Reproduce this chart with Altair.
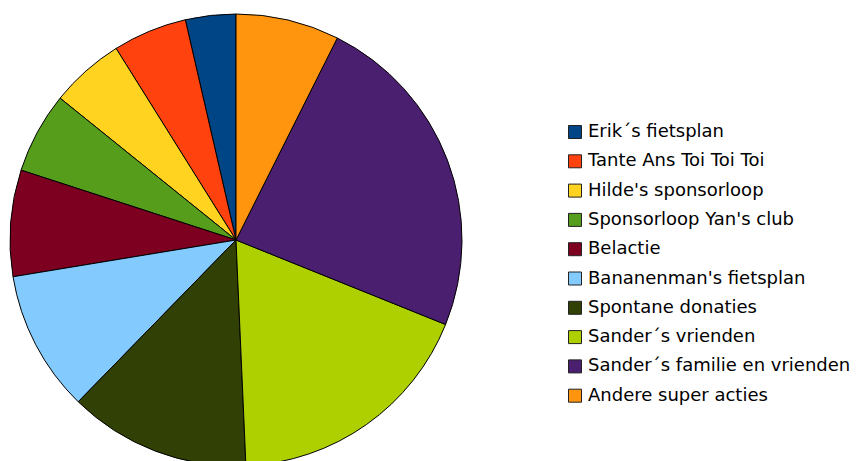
import altair as alt
import pandas as pd

# Legend order
categories = [
    "Erik\u00b4s fietsplan",
    "Tante Ans Toi Toi Toi",
    "Hilde's sponsorloop",
    "Sponsorloop Yan's club",
    "Belactie",
    "Bananenman's fietsplan",
    "Spontane donaties",
    "Sander\u00b4s vrienden",
    "Sander\u00b4s familie en vrienden",
    "Andere super acties",
]
values = [3.6, 5.3, 5.3, 5.8, 7.6, 10.1, 13.0, 18.2, 23.7, 7.4]
colors = ["#004586", "#ff420e", "#ffd320", "#579d1c", "#7e0021",
          "#83caff", "#314004", "#aecf00", "#4b1f6f", "#ff950e"]
# clockwise drawing order starting at 12 o'clock
draw_order = [9, 8, 7, 6, 5, 4, 3, 2, 1, 0]

df = pd.DataFrame({
    "categorie": categories,
    "waarde": values,
    "volgorde": draw_order,
})

chart = alt.Chart(df).mark_arc(stroke="black", strokeWidth=1, radius=226).encode(
    x=alt.value(224),
    y=alt.value(232),
    theta=alt.Theta("waarde:Q", stack=True),
    order=alt.Order("volgorde:Q", sort="ascending"),
    color=alt.Color(
        "categorie:N",
        scale=alt.Scale(domain=categories, range=colors),
        legend=alt.Legend(
            title=None,
            orient="none",
            legendX=554,
            legendY=115,
            symbolType="square",
            symbolSize=169,
            symbolStrokeColor="#222222",
            symbolStrokeWidth=1,
            labelFont="DejaVu Sans",
            labelFontSize=18,
            labelColor="black",
            labelOffset=4,
            labelLimit=400,
            rowPadding=11.3,
            padding=0,
        ),
    ),
).properties(
    width=452,
    height=464,
    padding=0,
).configure_view(stroke=None)

chart.save("out.html", embed_options={"renderer": "svg", "actions": False})
